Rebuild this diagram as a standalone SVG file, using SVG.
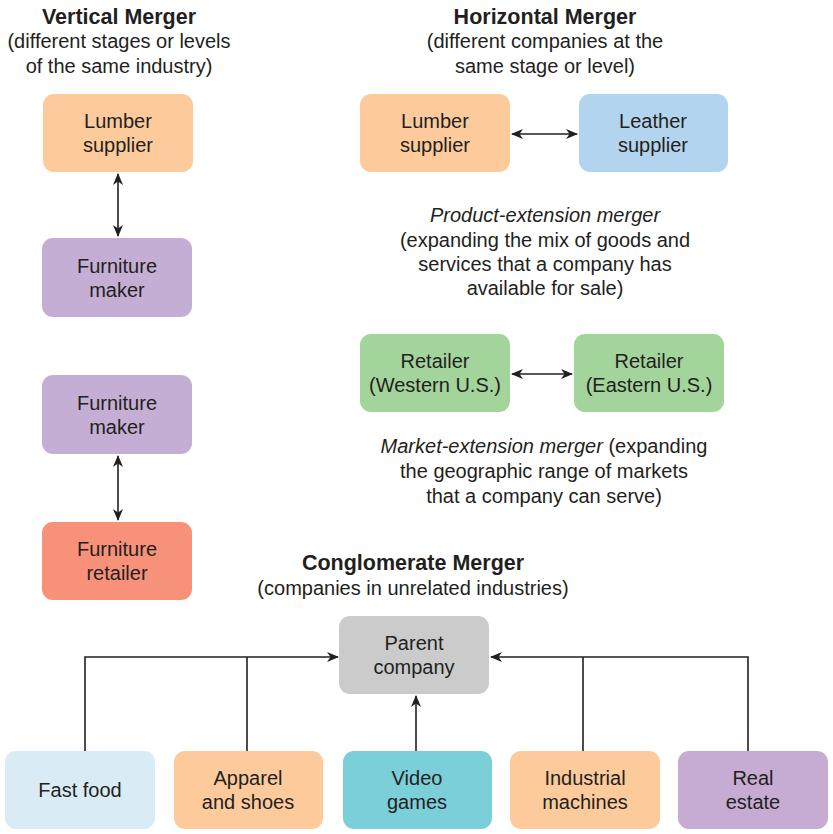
<svg xmlns="http://www.w3.org/2000/svg" width="833" height="834" viewBox="0 0 833 834">
<style>
text{font-family:"Liberation Sans",Arial,sans-serif;fill:#231F20;font-size:20px;text-anchor:middle}
.t{font-weight:bold;font-size:21.5px}
.i{font-style:italic}
rect{rx:11;ry:11}
.ln{stroke:#231F20;stroke-width:1.6;fill:none}
</style>
<defs>
<marker id="ah" viewBox="0 0 12 10" refX="11" refY="5" markerWidth="12" markerHeight="10" markerUnits="userSpaceOnUse" orient="auto-start-reverse">
<path d="M0,0 L12,5 L0,10 L3.5,5 z" fill="#231F20"/>
</marker>
</defs>
<rect width="833" height="834" fill="#fff" style="rx:0"/>
<g id="titles">
<text class="t" x="119" y="24">Vertical Merger</text>
<text x="119" y="48">(different stages or levels</text>
<text x="119" y="73">of the same industry)</text>
<text class="t" x="545" y="24">Horizontal Merger</text>
<text x="545" y="48">(different companies at the</text>
<text x="545" y="73">same stage or level)</text>
<text x="545" y="222"><tspan class="i">Product-extension merger</tspan></text>
<text x="545" y="247">(expanding the mix of goods and</text>
<text x="545" y="271">services that a company has</text>
<text x="545" y="295">available for sale)</text>
<text x="544" y="453"><tspan class="i">Market-extension merger</tspan> (expanding</text>
<text x="544" y="478">the geographic range of markets</text>
<text x="544" y="503">that a company can serve)</text>
<text class="t" x="413" y="570">Conglomerate Merger</text>
<text x="413" y="595">(companies in unrelated industries)</text>
</g>
<g id="v-lumber"><rect x="43" y="94" width="150" height="78" fill="#FDCB9B"/><text x="118" y="128">Lumber</text><text x="118" y="152">supplier</text></g>
<g id="v-maker1"><rect x="42" y="238" width="150" height="79" fill="#C5AED4"/><text x="117" y="273">Furniture</text><text x="117" y="297">maker</text></g>
<g id="v-maker2"><rect x="42" y="375" width="150" height="79" fill="#C5AED4"/><text x="117" y="410">Furniture</text><text x="117" y="434">maker</text></g>
<g id="v-retailer"><rect x="42" y="522" width="150" height="78" fill="#F7917A"/><text x="117" y="556">Furniture</text><text x="117" y="580">retailer</text></g>
<g id="h-lumber"><rect x="360" y="94" width="150" height="78" fill="#FDCB9B"/><text x="435" y="128">Lumber</text><text x="435" y="152">supplier</text></g>
<g id="h-leather"><rect x="579" y="94" width="149" height="78" fill="#B3D4EE"/><text x="653" y="128">Leather</text><text x="653" y="152">supplier</text></g>
<g id="r-west"><rect x="360" y="334" width="150" height="78" fill="#A3D49B"/><text x="435" y="368">Retailer</text><text x="435" y="392">(Western U.S.)</text></g>
<g id="r-east"><rect x="574" y="334" width="150" height="78" fill="#A3D49B"/><text x="649" y="368">Retailer</text><text x="649" y="392">(Eastern U.S.)</text></g>
<g id="parent"><rect x="339" y="616" width="150" height="78" fill="#CBCBCB"/><text x="414" y="650">Parent</text><text x="414" y="674">company</text></g>
<g id="fastfood"><rect x="5" y="751" width="150" height="78" fill="#D9ECF5"/><text x="80" y="797">Fast food</text></g>
<g id="apparel"><rect x="174" y="751" width="149" height="78" fill="#FDCB9B"/><text x="248" y="785">Apparel</text><text x="248" y="809">and shoes</text></g>
<g id="video"><rect x="343" y="751" width="149" height="78" fill="#7ACFD8"/><text x="417" y="785">Video</text><text x="417" y="809">games</text></g>
<g id="industrial"><rect x="510" y="751" width="150" height="78" fill="#FDCB9B"/><text x="585" y="785">Industrial</text><text x="585" y="809">machines</text></g>
<g id="realestate"><rect x="678" y="751" width="150" height="78" fill="#C6ABD3"/><text x="753" y="785">Real</text><text x="753" y="809">estate</text></g>
<g id="connectors" class="ln">
<line x1="118" y1="174" x2="118" y2="236" marker-start="url(#ah)" marker-end="url(#ah)"/>
<line x1="118" y1="456" x2="118" y2="520" marker-start="url(#ah)" marker-end="url(#ah)"/>
<line x1="512" y1="134" x2="577" y2="134" marker-start="url(#ah)" marker-end="url(#ah)"/>
<line x1="512" y1="374" x2="572" y2="374" marker-start="url(#ah)" marker-end="url(#ah)"/>
<polyline points="85,751 85,657 338,657" marker-end="url(#ah)"/>
<line x1="247" y1="751" x2="247" y2="657"/>
<polyline points="748,751 748,657 491,657" marker-end="url(#ah)"/>
<line x1="583" y1="751" x2="583" y2="657"/>
<line x1="416" y1="751" x2="416" y2="696" marker-end="url(#ah)"/>
</g>
</svg>
